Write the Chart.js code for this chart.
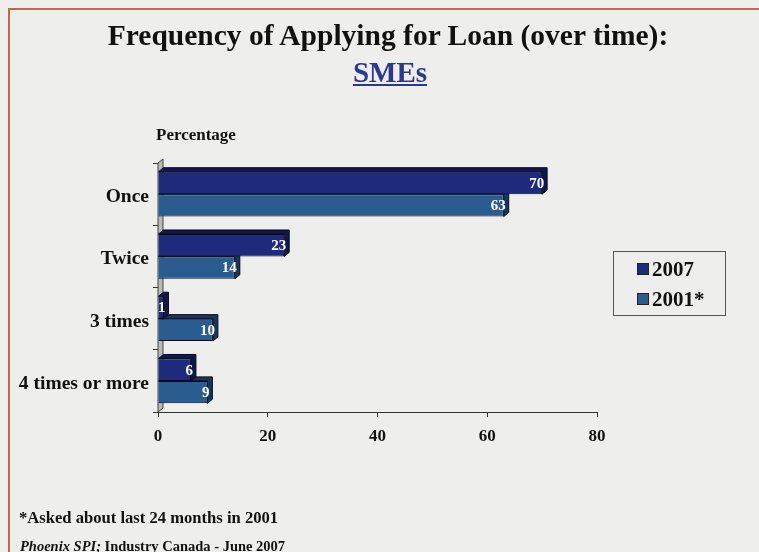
<!DOCTYPE html>
<html>
<head>
<meta charset="utf-8">
<script src="https://cdn.jsdelivr.net/npm/chart.js@4/dist/chart.umd.min.js"></script>
<style>
  html, body { margin: 0; padding: 0; }
  body { width: 759px; height: 552px; background: #eeeeec; position: relative; overflow: hidden;
         font-family: 'Liberation Serif', 'Times New Roman', serif; color: #111; }
  .frame { position: absolute; left: 8px; top: 8px; right: -10px; bottom: -10px;
           border-top: 2px solid #c9624f; border-left: 2px solid #c9624f; }
  #chart { position: absolute; left: 0; top: 0; }
  .title { position: absolute; left: 0; width: 776px; text-align: center; font-weight: bold; font-size: 29.5px; top: 18px;
           line-height: 34px; }
  .subtitle { position: absolute; left: 0; width: 780px; text-align: center; font-weight: bold; font-size: 29px; top: 55px;
              line-height: 34px; color: #2b3990; }
  .subtitle span { text-decoration: underline; }
  .axis-title { position: absolute; left: 156px; top: 125px; font-weight: bold; font-size: 17px; line-height: 20px; }
  .legend { position: absolute; left: 613px; top: 251px; width: 111px; height: 63px; border: 1px solid #555; }
  .legend .row { position: absolute; left: 23px; font-weight: bold; font-size: 21px; line-height: 24px;
                 display: flex; align-items: center; }
  .legend .sw { width: 12px; height: 12px; margin-right: 3px; border: 1px solid #222; box-sizing: border-box; }
  .note { position: absolute; left: 19px; top: 508px; font-weight: bold; font-size: 16.6px; line-height: 20px; }
  .source { position: absolute; left: 20px; top: 537px; font-weight: bold; font-size: 14.5px; line-height: 18px; }
</style>
</head>
<body>
<div class="frame"></div>
<canvas id="chart" width="759" height="552"></canvas>
<div class="title">Frequency of Applying for Loan (over time):</div>
<div class="subtitle"><span>SMEs</span></div>
<div class="axis-title">Percentage</div>
<div class="legend" id="legend"></div>
<div class="note">*Asked about last 24 months in 2001</div>
<div class="source"><i>Phoenix SPI;</i> Industry Canada - June 2007</div>
<script>
// Survey answers: how often firms applied for a loan
const categories = ['Once', 'Twice', '3 times', '4 times or more'];
const seriesNames = ['2007', '2001*'];
const values2007 = [70, 23, 1, 6];
const values2001 = [63, 14, 10, 9];
const xTicks = [0, 20, 40, 60, 80];

const frontColors = ['#1e2b7c', '#2b5c90'];
const sideColors = ['#10184a', '#173658'];
const DEPTH_X = 5;
const DEPTH_Y = 4;

// Legend rows built from the series
const legend = document.getElementById('legend');
seriesNames.forEach((name, i) => {
  const row = document.createElement('div');
  row.className = 'row';
  row.style.top = (i === 0 ? 5 : 35) + 'px';
  row.innerHTML = '<span class="sw" style="background:' + frontColors[i] + '"></span>' + name;
  legend.appendChild(row);
});

// Depth faces for bars and the back wall
const depthPlugin = {
  id: 'depth',
  beforeDatasetsDraw(chart) {
    const { ctx, chartArea: a } = chart;
    ctx.save();
    ctx.beginPath();
    ctx.moveTo(a.left, a.top);
    ctx.lineTo(a.left + DEPTH_X, a.top - DEPTH_Y);
    ctx.lineTo(a.left + DEPTH_X, a.bottom - DEPTH_Y);
    ctx.lineTo(a.left, a.bottom);
    ctx.closePath();
    ctx.fillStyle = '#b9b9b9';
    ctx.fill();
    ctx.strokeStyle = '#444';
    ctx.lineWidth = 1;
    ctx.stroke();
    ctx.restore();
  },
  beforeDatasetDraw(chart, args) {
    const { ctx } = chart;
    const meta = chart.getDatasetMeta(args.index);
    ctx.save();
    ctx.fillStyle = sideColors[args.index];
    ctx.strokeStyle = '#0a0a20';
    ctx.lineWidth = 1;
    meta.data.forEach(bar => {
      const p = bar.getProps(['x', 'y', 'base', 'height'], true);
      const l = p.base, r = p.x, t = p.y - p.height / 2, b = p.y + p.height / 2;
      ctx.beginPath();
      ctx.moveTo(l, t);
      ctx.lineTo(l + DEPTH_X, t - DEPTH_Y);
      ctx.lineTo(r + DEPTH_X, t - DEPTH_Y);
      ctx.lineTo(r + DEPTH_X, b - DEPTH_Y);
      ctx.lineTo(r, b);
      ctx.lineTo(r, t);
      ctx.closePath();
      ctx.fill();
      ctx.stroke();
    });
    ctx.restore();
  },
  afterDatasetsDraw(chart) {
    const { ctx } = chart;
    ctx.save();
    ctx.font = 'bold 15px "Liberation Serif"';
    ctx.fillStyle = '#ffffff';
    ctx.textAlign = 'right';
    ctx.textBaseline = 'middle';
    chart.data.datasets.forEach((ds, di) => {
      chart.getDatasetMeta(di).data.forEach((bar, i) => {
        const p = bar.getProps(['x', 'y'], true);
        ctx.fillText(String(ds.data[i]), p.x + 2, p.y + 1);
      });
    });
    ctx.restore();
  }
};

new Chart(document.getElementById('chart'), {
  type: 'bar',
  data: {
    labels: categories,
    datasets: [
      { label: seriesNames[0], data: values2007, backgroundColor: frontColors[0], borderColor: '#0a0a20', borderWidth: 1 },
      { label: seriesNames[1], data: values2001, backgroundColor: frontColors[1], borderColor: '#0a0a20', borderWidth: 1 }
    ]
  },
  options: {
    responsive: false,
    animation: false,
    indexAxis: 'y',
    layout: { padding: { top: 163, bottom: 100, left: 0, right: 162 } },
    datasets: { bar: { categoryPercentage: 0.72, barPercentage: 1 } },
    plugins: { legend: { display: false }, tooltip: { enabled: false } },
    scales: {
      x: {
        min: xTicks[0], max: xTicks[xTicks.length - 1],
        afterBuildTicks(scale) { scale.ticks = xTicks.map(v => ({ value: v })); },
        afterFit(scale) { scale.height = 40; },
        ticks: { color: '#111', padding: 9, font: { family: 'Liberation Serif', weight: 'bold', size: 17 } },
        grid: { drawOnChartArea: false, tickLength: 5, color: '#333' },
        border: { color: '#333' }
      },
      y: {
        afterFit(scale) { scale.width = 158; },
        ticks: { color: '#111', padding: 4, labelOffset: 3, font: { family: 'Liberation Serif', weight: 'bold', size: 19.5 } },
        grid: { drawOnChartArea: false, offset: true, tickLength: 5, color: '#333' },
        border: { color: '#333' }
      }
    }
  },
  plugins: [depthPlugin]
});
</script>
</body>
</html>
